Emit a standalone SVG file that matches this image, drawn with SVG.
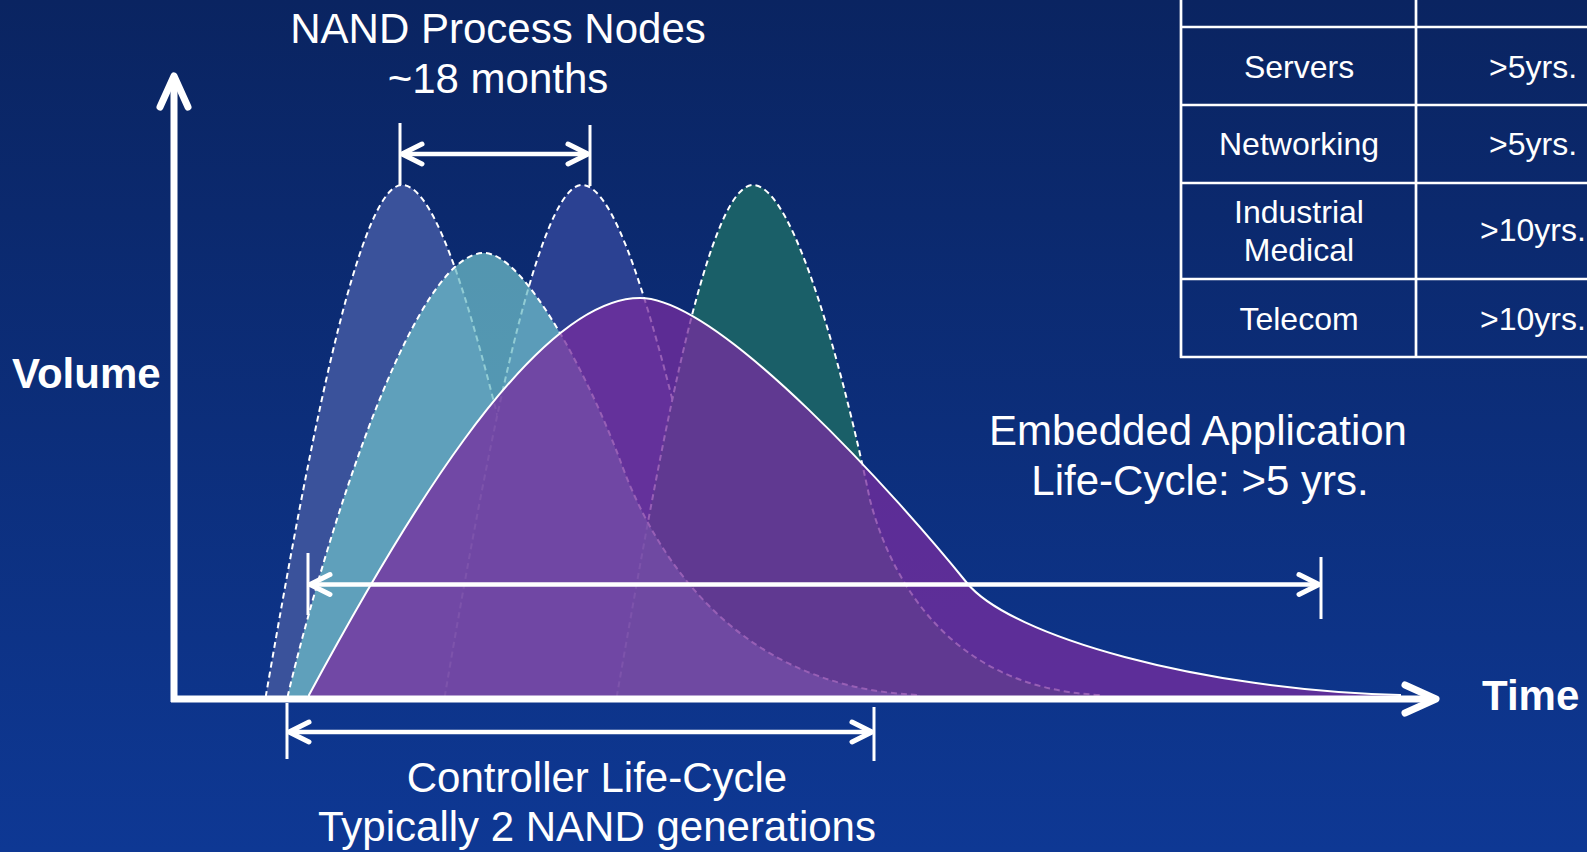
<svg xmlns="http://www.w3.org/2000/svg" width="1587" height="852" viewBox="0 0 1587 852">
<defs>
<linearGradient id="bg" x1="0" y1="0" x2="0" y2="1">
<stop offset="0" stop-color="#0a2461"/>
<stop offset="1" stop-color="#0e3894"/>
</linearGradient>
<marker id="chev" markerUnits="userSpaceOnUse" viewBox="-25 -15 32 30" markerWidth="32" markerHeight="30" refX="0" refY="0" orient="auto-start-reverse">
<path d="M-20,-10 L0,0 L-20,10" fill="none" stroke="#fff" stroke-width="5" stroke-linecap="round" stroke-linejoin="round"/>
</marker>
<marker id="axhead" markerUnits="userSpaceOnUse" viewBox="-38 -20 46 40" markerWidth="46" markerHeight="40" refX="0" refY="0" orient="auto">
<path d="M-31,-14 L0,0 L-31,14" fill="none" stroke="#fff" stroke-width="7" stroke-linecap="round" stroke-linejoin="round"/>
</marker>
<style>
.dash{stroke:#fff;stroke-width:2;stroke-dasharray:6 4;}
.lbl{font-family:"Liberation Sans",Arial,sans-serif;fill:#fff;}
.t42{font-size:42px;text-anchor:middle;}
.tb{font-size:32px;text-anchor:middle;}
.bold{font-size:42px;font-weight:bold;}
.arr{stroke:#fff;stroke-width:4.5;fill:none;}
.tick{stroke:#fff;stroke-width:3;fill:none;}
.grid{stroke:#fff;stroke-width:2.7;fill:none;}
</style>
</defs>
<rect x="0" y="0" width="1587" height="852" fill="url(#bg)"/>

<g id="curves">
<g id="node-gen1"><path class="dash" fill="#3a529b" d="M266,697 L266,695 C300,500 355,185 402,185 C445,185 490,390 510,465 C535,560 600,690 760,695 L760,697 Z"/></g>
<g id="node-gen3"><path class="dash" fill="#2b4192" d="M445,697 L445,695 C480,490 535,185 582,185 C622,185 665,370 690,470 C708,540 750,688 950,695 L950,697 Z"/></g>
<g id="node-gen4"><path class="dash" fill="#1a5f68" d="M617,697 L617,695 C655,480 705,185 753,185 C795,185 845,380 870,500 C887,565 940,688 1100,695 L1100,697 Z"/></g>
<g id="node-gen2"><path class="dash" fill="#6cbbc5" fill-opacity="0.75" d="M288,697 L288,695 C310,600 405,253 484,253 C525,253 590,380 620,460 C645,530 720,688 920,695 L920,697 Z"/></g>
<g id="node-embedded"><path fill="#762d9e" fill-opacity="0.76" stroke="#fff" stroke-width="2" d="M309,697 L309,695 C390,545 530,298 640,298 C720,298 900,500 967,583 C1010,636 1200,690 1400,695 L1400,697 Z"/></g>
</g>

<g id="connectors">
<line class="tick" x1="400" y1="123" x2="400" y2="185"/>
<line class="tick" x1="590" y1="125" x2="590" y2="186"/>
<line class="arr" x1="402" y1="154" x2="588" y2="154" marker-start="url(#chev)" marker-end="url(#chev)"/>
<line class="tick" x1="308" y1="553" x2="308" y2="615"/>
<line class="tick" x1="1321" y1="557" x2="1321" y2="619"/>
<line class="arr" x1="310" y1="584.5" x2="1319" y2="584.5" marker-start="url(#chev)" marker-end="url(#chev)"/>
<line class="tick" x1="287" y1="703" x2="287" y2="759"/>
<line class="tick" x1="874" y1="707" x2="874" y2="761"/>
<line class="arr" x1="289" y1="732" x2="872" y2="732" marker-start="url(#chev)" marker-end="url(#chev)"/>
<line stroke="#fff" stroke-width="7" x1="174" y1="702" x2="174" y2="76" marker-end="url(#axhead)"/>
<line stroke="#fff" stroke-width="7" x1="171" y1="699" x2="1436" y2="699" marker-end="url(#axhead)"/>
</g>

<g id="node-table">
<line class="grid" x1="1181" y1="0" x2="1181" y2="358"/>
<line class="grid" x1="1416" y1="0" x2="1416" y2="358"/>
<line class="grid" x1="1180" y1="27" x2="1587" y2="27"/>
<line class="grid" x1="1180" y1="105" x2="1587" y2="105"/>
<line class="grid" x1="1180" y1="183" x2="1587" y2="183"/>
<line class="grid" x1="1180" y1="279" x2="1587" y2="279"/>
<line class="grid" x1="1180" y1="357" x2="1587" y2="357"/>
<text class="lbl tb" x="1299" y="78">Servers</text>
<text class="lbl tb" x="1533" y="78">&gt;5yrs.</text>
<text class="lbl tb" x="1299" y="155">Networking</text>
<text class="lbl tb" x="1533" y="155">&gt;5yrs.</text>
<text class="lbl tb" x="1299" y="223">Industrial</text>
<text class="lbl tb" x="1299" y="261">Medical</text>
<text class="lbl tb" x="1533" y="241">&gt;10yrs.</text>
<text class="lbl tb" x="1299" y="330">Telecom</text>
<text class="lbl tb" x="1533" y="330">&gt;10yrs.</text>
</g>

<g id="node-labels">
<text class="lbl t42" x="498" y="43">NAND Process Nodes</text>
<text class="lbl t42" x="498" y="93">~18 months</text>
<text class="lbl t42" x="1198" y="445">Embedded Application</text>
<text class="lbl t42" x="1200" y="495">Life-Cycle: &gt;5 yrs.</text>
<text class="lbl t42" x="597" y="792">Controller Life-Cycle</text>
<text class="lbl t42" x="597" y="841">Typically 2 NAND generations</text>
<text class="lbl bold" x="12" y="388">Volume</text>
<text class="lbl bold" x="1482" y="710">Time</text>
</g>
</svg>
